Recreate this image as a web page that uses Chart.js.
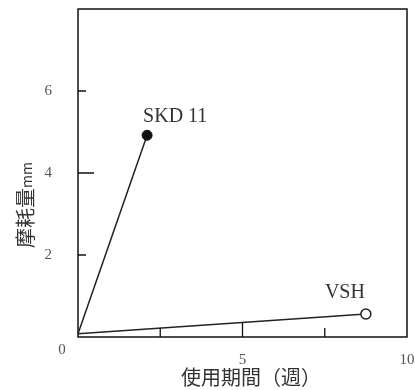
<!DOCTYPE html>
<html>
<head>
<meta charset="utf-8">
<script src="https://cdn.jsdelivr.net/npm/chart.js@4"></script>
<style>
  html, body { margin: 0; padding: 0; background: #fff; }
  #wrap { width: 415px; height: 390px; }
</style>
</head>
<body>
<div id="wrap"><canvas id="chart" width="415" height="390"></canvas></div>
<script>
// values
const skdWeeks = [0, 2.1]
const skdWear = [0.08, 4.92]
const vshWeeks = [0, 8.75]
const vshWear = [0.08, 0.56]
const seriesNames = ["SKD 11", "VSH"]
const yTickLabels = [2, 4, 6]
const xTickLabels = [5, 10]
const xMinorTicks = [2.5, 5, 7.5]
const yMinorTicks = [2, 4, 6]
const xTitle = "使用期間（週）"
const yTitle = "摩耗量"
const yUnit = "mm"

const serif = "'Liberation Serif', 'DejaVu Serif', serif"
const cjk = "'Noto Sans CJK JP', sans-serif"

const toPoints = (xs, ys) => xs.map((x, i) => ({x: x, y: ys[i]}))

// inward ticks, frame, corner zero, labels and titles
const framePlugin = {
	id: "frame",
	afterDraw(chart) {
		const {ctx, chartArea: a, scales: {x, y}} = chart
		ctx.save()
		ctx.strokeStyle = "#111"
		ctx.lineWidth = 1.5
		ctx.strokeRect(a.left, a.top, a.right - a.left, a.bottom - a.top)
		ctx.lineWidth = 1.3
		ctx.beginPath()
		xMinorTicks.forEach(v => {
			const px = x.getPixelForValue(v)
			const len = v == 5 ? 15 : 9
			ctx.moveTo(px, a.bottom)
			ctx.lineTo(px, a.bottom - len)
		})
		yMinorTicks.forEach(v => {
			const py = y.getPixelForValue(v)
			const len = v == 4 ? 16 : 8
			ctx.moveTo(a.left, py)
			ctx.lineTo(a.left + len, py)
		})
		ctx.stroke()

		ctx.fillStyle = "#555"
		ctx.font = "15px " + serif
		ctx.textAlign = "center"
		ctx.textBaseline = "middle"
		ctx.fillText("0", a.left - 16, a.bottom + 13)

		// series labels next to the end points
		ctx.fillStyle = "#333"
		ctx.font = "20px " + serif
		ctx.textAlign = "left"
		ctx.fillText(seriesNames[0], x.getPixelForValue(skdWeeks[1]) - 4, y.getPixelForValue(skdWear[1]) - 19)
		ctx.fillText(seriesNames[1], x.getPixelForValue(vshWeeks[1]) - 41, y.getPixelForValue(vshWear[1]) - 21)

		// axis titles
		ctx.font = "20px " + cjk
		ctx.textAlign = "center"
		ctx.fillText(xTitle, 251, 377)

		ctx.translate(25, 205)
		ctx.rotate(-Math.PI / 2)
		ctx.font = "20px " + cjk
		const w1 = ctx.measureText(yTitle).width
		ctx.font = "14px " + cjk
		const w2 = ctx.measureText(yUnit).width
		const start = -(w1 + w2) / 2
		ctx.textAlign = "left"
		ctx.font = "20px " + cjk
		ctx.fillText(yTitle, start, 0)
		ctx.font = "14px " + cjk
		ctx.fillText(yUnit, start + w1, 2)
		ctx.restore()
	}
}

new Chart(document.getElementById("chart"), {
	type: "scatter",
	data: {
		datasets: [
			{
				label: seriesNames[0],
				data: toPoints(skdWeeks, skdWear),
				showLine: true,
				borderColor: "#222",
				borderWidth: 1.5,
				pointRadius: [0, 5],
				pointBackgroundColor: "#111",
				pointBorderColor: "#111",
				pointBorderWidth: 1
			},
			{
				label: seriesNames[1],
				data: toPoints(vshWeeks, vshWear),
				showLine: true,
				borderColor: "#222",
				borderWidth: 1.5,
				pointRadius: [0, 5],
				pointBackgroundColor: "#fff",
				pointBorderColor: "#222",
				pointBorderWidth: 1.5
			}
		]
	},
	options: {
		responsive: false,
		animation: false,
		events: [],
		layout: { padding: { top: 9, right: 8, left: 0, bottom: 0 } },
		plugins: { legend: { display: false }, tooltip: { enabled: false } },
		scales: {
			x: {
				type: "linear", min: 0, max: 10,
				border: { display: false },
				grid: { display: false },
				ticks: {
					stepSize: 5, padding: 6, color: "#555", maxRotation: 0,
					font: { size: 15, family: serif },
					callback: v => xTickLabels.includes(v) ? v : null
				},
				afterFit: s => { s.height = 53; s.paddingLeft = 0; s.paddingRight = 0 }
			},
			y: {
				min: 0, max: 8,
				border: { display: false },
				grid: { display: false },
				ticks: {
					stepSize: 2, padding: 18, color: "#555",
					font: { size: 15, family: serif },
					callback: v => yTickLabels.includes(v) ? v : null
				},
				afterFit: s => { s.width = 78; s.paddingTop = 0; s.paddingBottom = 0 }
			}
		}
	},
	plugins: [framePlugin]
})
</script>
</body>
</html>
